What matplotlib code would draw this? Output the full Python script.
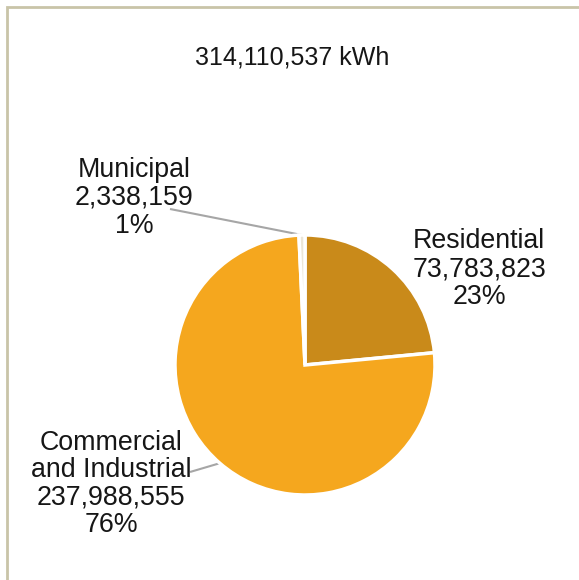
import numpy as np
import matplotlib.pyplot as plt
from matplotlib.patches import Rectangle

plt.rcParams['font.family'] = ['Liberation Sans', 'DejaVu Sans']

# energy use by customer class (kWh)
categories = ['Residential', 'Commercial\nand Industrial', 'Municipal']
kwh = [73783823, 237988555, 2338159]
colors = ['#c98a1a', '#f5a71e', '#ebe6d8']
total_kwh = 314110537

# where each label block sits and where its leader line starts
label_pos = [(479, 311), (111, 96), (134, 382)]
leader_start = [None, (190, 108), (170, 371)]

fig = plt.figure(figsize=(5.79, 5.80), dpi=100)
ax = fig.add_axes([0, 0, 1, 1])

wedges, _ = ax.pie(kwh, colors=colors, startangle=90, counterclock=False,
                   radius=130, center=(305, 215),
                   wedgeprops=dict(edgecolor='white', linewidth=2.5))

ax.set_xlim(0, 579)
ax.set_ylim(0, 580)
ax.set_aspect('equal')
ax.axis('off')

total = sum(kwh)
for w, name, val, pos, start in zip(wedges, categories, kwh, label_pos, leader_start):
    pct = val / total * 100
    ax.text(pos[0], pos[1], f"{name}\n{val:,}\n{pct:.0f}%", ha='center', va='center',
            multialignment='center', fontsize=19.3, color='#161616', linespacing=1.08)
    if start is not None:
        mid = np.deg2rad((w.theta1 + w.theta2) / 2)
        ex = w.center[0] + w.r * np.cos(mid)
        ey = w.center[1] + w.r * np.sin(mid)
        ax.plot([start[0], ex], [start[1], ey], color='#a6a6a6', lw=1.5,
                solid_capstyle='butt', zorder=0)

ax.text(292, 523, f"{total_kwh:,} kWh", ha='center', va='center',
        fontsize=18, color='#161616')

# chart frame (only left and top edges are in view)
fig.patches.append(Rectangle((7 / 579, -0.1), 1.2, (580 - 7) / 580 + 0.1,
                             transform=fig.transFigure, fill=False,
                             edgecolor='#c9c4a8', linewidth=2))

fig.savefig('out.png', dpi=100)
